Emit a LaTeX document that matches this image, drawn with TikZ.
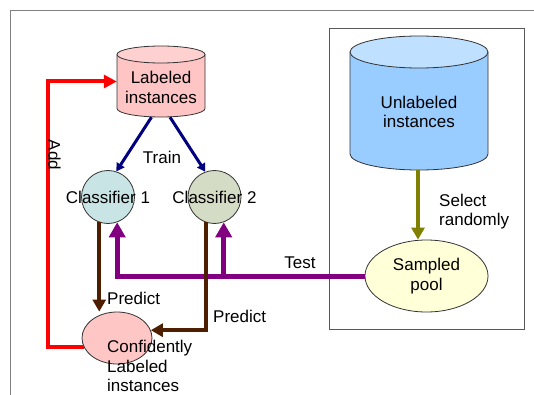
\documentclass[tikz,border=0pt]{standalone}
\usepackage{fontspec}
\setmainfont{Liberation Sans}
\usetikzlibrary{arrows.meta,calc,shapes.geometric}
\definecolor{labbody}{HTML}{FFC4C4}
\definecolor{labtop}{HTML}{FFD0D0}
\definecolor{unbody}{HTML}{99CCFF}
\definecolor{untop}{HTML}{BFE0FF}
\definecolor{cone}{HTML}{C9E4E4}
\definecolor{ctwo}{HTML}{D5DCC6}
\definecolor{conffill}{HTML}{FFC6C6}
\definecolor{poolfill}{HTML}{FFFFD8}
\definecolor{navyc}{HTML}{000080}
\definecolor{purplec}{HTML}{800080}
\definecolor{brownc}{HTML}{4D1F00}
\definecolor{olivec}{HTML}{808000}
\definecolor{outl}{HTML}{333333}
\tikzset{
  txt/.style={font=\fontsize{17}{19.5}\selectfont, inner sep=0pt, align=center},
  shapeline/.style={draw=outl, line width=0.8pt},
  trainarrow/.style={draw=navyc, line width=3pt, -{Triangle[width=9pt,length=8pt]}},
  addarrow/.style={draw=red, line width=4pt, -{Triangle[width=13pt,length=13pt]}},
  predarrow/.style={draw=brownc, line width=4pt, -{Triangle[width=13pt,length=12pt]}},
  testarrow/.style={draw=purplec, line width=5pt, -{Triangle[width=16pt,length=15pt]}},
  selarrow/.style={draw=olivec, line width=4pt, -{Triangle[width=13pt,length=12pt]}},
}
\begin{document}
\begin{tikzpicture}[x=1pt,y=-1pt]
\useasboundingbox (0,0) rectangle (534,395);
% outer frame
\draw[gray, line width=1pt] (10.5,395) -- (10.5,10.7) -- (534,10.7);
% inner box
\draw[draw=gray!70!black, line width=0.8pt] (329,28.5) rectangle (524,329);

% Labeled cylinder
\fill[labbody] (117,54.5) -- (117,108.5) arc[start angle=180,end angle=360,x radius=44pt,y radius=8.5pt] -- (205,54.5) -- cycle;
\draw[shapeline] (117,54.5) -- (117,108.5) arc[start angle=180,end angle=360,x radius=44pt,y radius=8.5pt] -- (205,54.5);
\draw[shapeline, fill=labtop] (161,54.5) ellipse[x radius=44pt, y radius=8.5pt];
\node[inner sep=0pt, minimum width=88pt, minimum height=71pt] (labcyl) at (161,81.5) {};
\node[txt] (labtxt) at (161,87.5) {Labeled\\instances};

% Unlabeled cylinder
\fill[unbody] (350,52) -- (350,154) arc[start angle=180,end angle=360,x radius=69pt,y radius=16pt] -- (488,52) -- cycle;
\draw[shapeline] (350,52) -- (350,154) arc[start angle=180,end angle=360,x radius=69pt,y radius=16pt] -- (488,52);
\draw[shapeline, fill=untop] (419,52) ellipse[x radius=69pt, y radius=16pt];
\node[inner sep=0pt, minimum width=138pt, minimum height=134pt] (uncyl) at (419,103) {};
\node[txt] (untxt) at (419,112) {Unlabeled\\instances};

% classifiers
\node[circle, shapeline, fill=cone, minimum size=53pt, inner sep=0pt] (c1) at (108,197) {};
\node[txt] (c1txt) at (108,197.5) {Classifier 1};
\node[circle, shapeline, fill=ctwo, minimum size=53pt, inner sep=0pt] (c2) at (214.5,197) {};
\node[txt] (c2txt) at (214.5,197.5) {Classifier 2};

% confidently labeled
\node[ellipse, shapeline, fill=conffill, minimum width=70pt, minimum height=52pt, inner sep=0pt] (conf) at (117,338) {};
\node[txt, align=left, anchor=west] (conftxt) at (107,366) {Confidently\\Labeled\\instances};

% sampled pool
\node[ellipse, shapeline, fill=poolfill, minimum width=123pt, minimum height=72pt, inner sep=0pt] (pool) at (426.5,276) {};
\node[txt] (pooltxt) at (426.5,276) {Sampled\\pool};

% arrows
\draw[trainarrow] ($(labcyl.south)+(-9.5,0)$) -- (c1.72);
\draw[trainarrow] ($(labcyl.south)+(9,0)$) -- (c2.110);
\node[txt] (train) at (162,157) {Train};

\draw[addarrow] (conf.195) -- ++(-36,0) |- (labcyl.west);
\node[txt, rotate=-90] (add) at (54.5,155) {Add};

\draw[testarrow] (pool.west) -| (c1.290);
\draw[testarrow] (c2.290 |- pool.west) -- (c2.290);
\node[txt] (test) at (300,263) {Test};

\draw[predarrow] (c1.251) -- (c1.251 |- conf.north);
\node[txt, anchor=west] (pred1) at (107,298) {Predict};
\draw[predarrow] (c2.251) |- (conf.13);
\node[txt, anchor=west] (pred2) at (213,316) {Predict};

\draw[selarrow] ($(uncyl.south)+(-1,0)$) -- ($(uncyl.south |- pool.north)+(-1,0)$);
\node[txt, align=left, anchor=west] (sel) at (439,211.5) {Select\\randomly};
\end{tikzpicture}
\end{document}
